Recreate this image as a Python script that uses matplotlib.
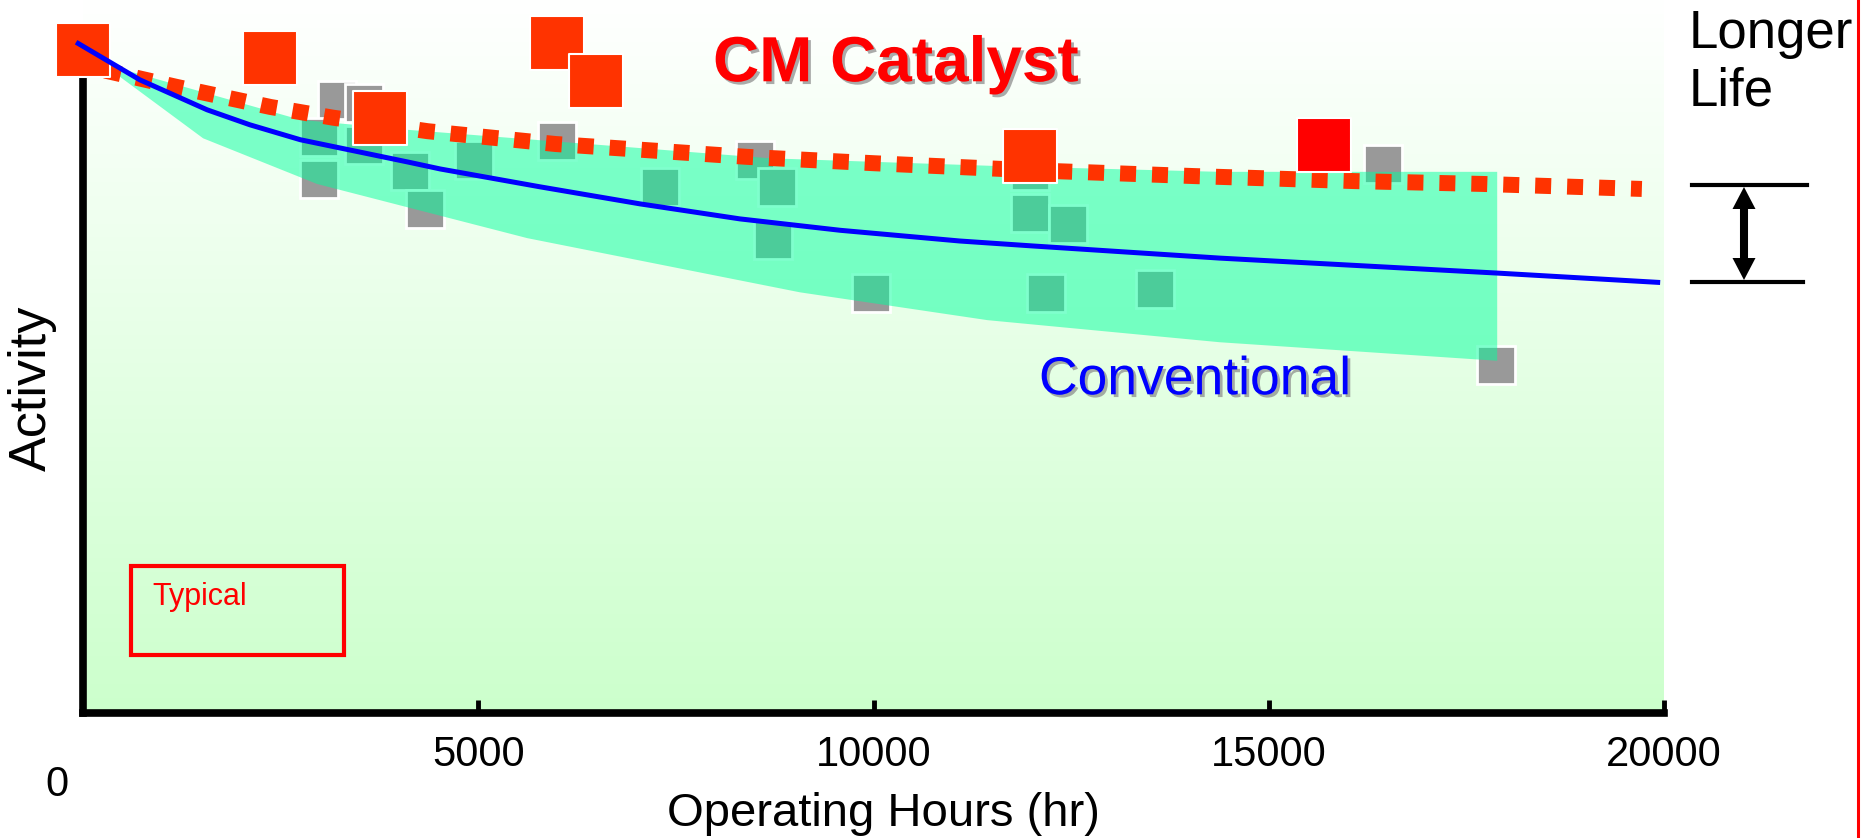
import numpy as np
import matplotlib
matplotlib.use('Agg')
import matplotlib.pyplot as plt
import matplotlib.patheffects as pe
from matplotlib.colors import LinearSegmentedColormap
from matplotlib.patches import Rectangle, Polygon

plt.rcParams['font.family'] = ['Liberation Sans', 'DejaVu Sans']

# CM catalyst test runs (hours, relative activity)
cm_hours = [0, 2370, 6000, 6490, 3760, 11980, 15700]
cm_act = [93.0, 91.9, 94.0, 88.6, 83.4, 78.1, 79.7]
cm_colors = ['#ff3300'] * 6 + ['#ff0000']

# conventional catalyst runs
conv_hours = [3210, 3555, 2985, 2985, 3555, 4140, 4330, 4950, 6000, 7300, 8500,
              8780, 8730, 9970, 11980, 11980, 12460, 12180, 13560, 16450, 17870]
conv_act = [86.0, 85.6, 80.8, 74.9, 79.7, 76.0, 70.7, 77.6, 80.2, 73.8, 77.6,
            73.8, 66.3, 58.9, 76.0, 70.1, 68.6, 58.9, 59.5, 77.0, 48.8]

# scatter band of conventional catalyst
band_top_h = [300, 2750, 4100, 8690, 11600, 14380, 17890]
band_top_a = [90.9, 83.2, 81.8, 77.8, 76.7, 75.9, 75.9]
band_low_h = [300, 1520, 2960, 5620, 9070, 11440, 14380, 17890]
band_low_a = [90.6, 80.6, 74.2, 66.6, 59.0, 55.1, 52.0, 49.4]

# trend lines
conv_fit_h = [-60, 720, 1570, 2110, 2750, 4100, 4520, 5780, 7050, 8310, 9580,
              11090, 12020, 14380, 17890, 19920]
conv_fit_a = [93.9, 88.8, 84.6, 82.5, 80.4, 77.3, 76.3, 73.8, 71.4, 69.3, 67.7,
              66.2, 65.5, 63.8, 61.7, 60.4]
cm_fit_h = [280, 1190, 2370, 3160, 4360, 5980, 8400, 10020, 12040, 14070, 16090, 17710, 19720]
cm_fit_a = [90.1, 87.8, 85.0, 83.5, 81.6, 79.8, 78.0, 77.1, 76.1, 75.3, 74.6, 74.2, 73.5]

xticks = [5000, 10000, 15000, 20000]

fig = plt.figure(figsize=(18.72, 8.38), dpi=100)
ax = fig.add_axes([83 / 1872, 125 / 838, (1664 - 83) / 1872, 713 / 838])
ax.set_xlim(0, 20000)
ax.set_ylim(0, 100)

# background gradient
bg = LinearSegmentedColormap.from_list('bg', ['#ffffff', '#ccffcc'])
ax.imshow(np.linspace(0, 1, 256).reshape(-1, 1), cmap=bg, extent=[0, 20000, 0, 100],
          aspect='auto', origin='upper', zorder=0)

ax.plot(conv_hours, conv_act, 's', color='#999999', ms=28, mec='white', mew=2, zorder=2)

band_x = band_top_h + band_low_h[::-1]
band_y = band_top_a + band_low_a[::-1]
ax.fill(band_x, band_y, color='#00ff9c', alpha=0.5, lw=0, zorder=3)

ax.plot(cm_fit_h, cm_fit_a, color='#ff3300', lw=11.5, ls=(0, (1, 1)), zorder=4)

ax.scatter(cm_hours, cm_act, marker='s', s=39 ** 2, c=cm_colors, edgecolors='white',
           linewidths=1.5, zorder=6, clip_on=False)
ax.plot(conv_fit_h, conv_fit_a, color='#0000ff', lw=3.6, zorder=7, clip_on=False)

shadow = [pe.withSimplePatchShadow(offset=(2, -2), shadow_rgbFace='#888888', alpha=0.7)]
ax.text(7970, 88.6, 'CM Catalyst', color='#ff0000', fontsize=46, fontweight='bold',
        va='baseline', ha='left', zorder=8, path_effects=shadow)
ax.text(12093, 44.7, 'Conventional', color='#0000ff', fontsize=38.5,
        va='baseline', ha='left', zorder=8, path_effects=shadow)

for s in ['top', 'right']:
    ax.spines[s].set_visible(False)
for s in ['left', 'bottom']:
    ax.spines[s].set_linewidth(5.5)
    ax.spines[s].set_zorder(5)
ax.spines['left'].set_bounds(0, 93)

ax.set_yticks([])
ax.set_xticks(xticks)
ax.set_xticklabels([str(t) for t in xticks])
ax.tick_params(axis='x', direction='in', length=9.5, width=3.5, labelsize=30, pad=16)
ax.text(-0.0164, -0.1016, '0', transform=ax.transAxes, ha='center', va='center', fontsize=30)

ax.set_xlabel('Operating Hours (hr)', fontsize=34)
ax.xaxis.set_label_coords(0.506, -0.111)
ax.set_ylabel('Activity', fontsize=37.5, va='center')
ax.yaxis.set_label_coords(-0.032, 0.456)

# overlay in pixel coordinates for annotations
ov = fig.add_axes([0, 0, 1, 1], zorder=5)
ov.set_xlim(0, 1872)
ov.set_ylim(838, 0)
ov.axis('off')
ov.set_facecolor('none')

ov.add_patch(Rectangle((131, 566), 213, 89, fill=False, ec='#ff0000', lw=3))
ov.text(152, 605, 'Typical', color='#ff0000', fontsize=22, va='baseline')

ov.text(1689, 48, 'Longer', fontsize=38, va='baseline')
ov.text(1689, 105, 'Life', fontsize=38, va='baseline')
ov.plot([1692, 1807], [185, 185], color='black', lw=3)
ov.plot([1692, 1803], [282, 282], color='black', lw=3)
ov.plot([1744, 1744], [205, 262], color='black', lw=5.8, solid_capstyle='butt')
ov.add_patch(Polygon([(1732.5, 209), (1755.5, 209), (1744, 187)], closed=True, color='black', lw=0))
ov.add_patch(Polygon([(1732.5, 258), (1755.5, 258), (1744, 280)], closed=True, color='black', lw=0))
ov.plot([1858, 1858], [0, 838], color='#ff0000', lw=2.2)

fig.savefig('out.png', dpi=100)
